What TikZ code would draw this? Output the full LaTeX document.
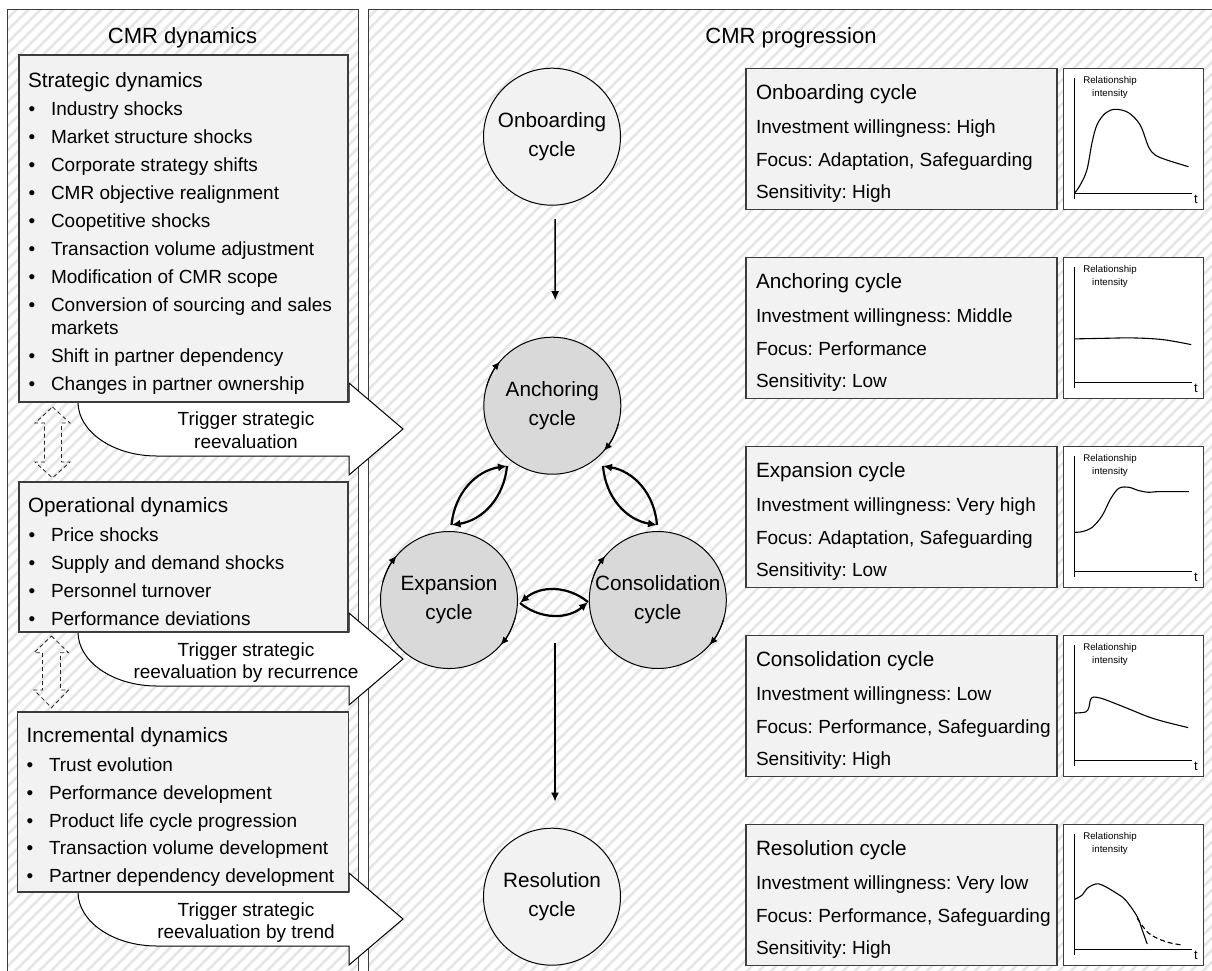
\documentclass[tikz,border=0pt]{standalone}
\usepackage{fontspec}
\setmainfont{Liberation Sans}
\usetikzlibrary{arrows.meta,calc}

\definecolor{boxfill}{HTML}{F2F2F2}
\definecolor{cyclefill}{HTML}{D9D9D9}
\definecolor{hatchline}{HTML}{E6E6E6}
\definecolor{framecol}{HTML}{3C3C3C}

\newcommand\cmrTitle{\fontsize{22}{26}\selectfont}
\newcommand\cmrHead{\fontsize{20.7}{29}\selectfont}
\newcommand\cmrItem{\fontsize{19}{22}\selectfont}
\newcommand\cmrTiny{\fontsize{9.7}{12}\selectfont}
\newcommand\cmrAxis{\fontsize{13}{15}\selectfont}
\frenchspacing

\begin{document}
\begin{tikzpicture}[x=1pt,y=-1pt,
  every node/.style={inner sep=0pt,outer sep=0pt},
  panel/.style={draw=framecol,line width=1.3pt},
  dynbox/.style={draw=framecol,fill=boxfill,line width=1.2pt,anchor=north west},
  infobox/.style={draw=framecol,fill=boxfill,line width=1.2pt,anchor=north west,minimum width=311pt,minimum height=141pt},
  chartbox/.style={draw=framecol,fill=white,line width=1.2pt,anchor=north west,minimum width=140pt,minimum height=141pt},
  trigger/.style={draw=black,fill=white,line width=1pt,line join=miter},
  blockarrow/.style={draw=black!85,line width=0.8pt,dash pattern=on 4pt off 3pt},
  itemtxt/.style={anchor=base west,font=\cmrItem},
  hdtxt/.style={anchor=base west,font=\cmrHead},
  bul/.style={anchor=base,font=\cmrItem},
  ctrtxt/.style={anchor=base,font=\cmrItem},
  cyc/.style={circle,draw=black,line width=1pt,minimum size=137pt,align=center,font=\cmrHead},
  progarrow/.style={line width=1.5pt,-{Latex[length=9pt,width=8pt]}},
  lensarrow/.style={line width=2.2pt,-{Latex[length=9pt,width=8pt]}},
  cyclehead/.style={line width=1pt,-{Latex[length=8pt,width=7pt]}},
  chartaxis/.style={line width=1.2pt,black},
  dyncurve/.style={line width=1.1pt,black,smooth,tension=0.55},
]
\useasboundingbox (0,0) rectangle (1212,970);
\clip (0,0) rectangle (1212,970);

% hatched panel backgrounds
\begin{scope}
  \clip (7.5,9.5) rectangle (358.5,990) (368.5,9.5) rectangle (1230,990);
  \foreach \k in {-1000,-988,...,1230}
    \draw[hatchline,line width=2.6pt] (\k,990) -- (\k+990,0);
\end{scope}
\draw[panel] (7.5,9.5) rectangle (358.5,990);
\draw[panel] (368.5,9.5) rectangle (1230,990);

\node[anchor=base,font=\cmrTitle] (ttlL) at (182.5,43.3) {CMR dynamics};
\node[anchor=base,font=\cmrTitle] (ttlR) at (791,43.3) {CMR progression};

% trigger block arrows leaving each dynamics box
\foreach \dy in {0,230,490}
  \draw[trigger] (78,402+\dy) .. controls (78,431.8+\dy) and (113.4,456+\dy) .. (157,456+\dy)
    -- (349,456+\dy) -- (349,475+\dy) -- (403,429+\dy) -- (349,383+\dy) -- (349,402+\dy) -- cycle;

\node[ctrtxt] (trA1) at (246,425.7) {Trigger strategic};
\node[ctrtxt] (trA2) at (246,448.3) {reevaluation};
\node[ctrtxt] (trB1) at (246,656) {Trigger strategic};
\node[ctrtxt] (trB2) at (246,678.3) {reevaluation by recurrence};
\node[ctrtxt] (trC1) at (246,916) {Trigger strategic};
\node[ctrtxt] (trC2) at (246,938.3) {reevaluation by trend};

% dynamics boxes
\node[dynbox,minimum width=329pt,minimum height=347pt] (strat) at (19,55) {};
\node[dynbox,minimum width=329pt,minimum height=150pt] (oper) at (19,482) {};
\node[dynbox,minimum width=331pt,minimum height=180pt] (incr) at (17.5,712) {};

\node[hdtxt] (sh) at (28,87.3) {Strategic dynamics};
\foreach \yy/\t [count=\i] in {115/Industry shocks, 143/Market structure shocks,
    171/Corporate strategy shifts, 199/CMR objective realignment, 227/Coopetitive shocks,
    255/Transaction volume adjustment, 283/Modification of CMR scope,
    311/Conversion of sourcing and sales, 362/Shift in partner dependency,
    390/Changes in partner ownership} {
  \node[bul] (sb\i) at (32,\yy) {•};
  \node[itemtxt] (si\i) at (51,\yy) {\t};
}
\node[itemtxt] (si8b) at (51,334) {markets};

\node[hdtxt] (oh) at (28,512) {Operational dynamics};
\foreach \yy/\t [count=\i] in {541/Price shocks, 569/Supply and demand shocks,
    597.7/Personnel turnover, 625/Performance deviations} {
  \node[bul] (ob\i) at (32,\yy) {•};
  \node[itemtxt] (oi\i) at (51,\yy) {\t};
}

\node[hdtxt] (nh) at (26.7,742.7) {Incremental dynamics};
\foreach \yy/\t [count=\i] in {771/Trust evolution, 799/Performance development,
    827/Product life cycle progression, 854/Transaction volume development,
    882/Partner dependency development} {
  \node[bul] (nb\i) at (30,\yy) {•};
  \node[itemtxt] (ni\i) at (49,\yy) {\t};
}

% dashed two-way block arrows between the dynamics boxes
\draw[blockarrow] (52.5,407) -- (70,423) -- (61.5,423) -- (61.5,462) -- (70,462) -- (52.5,478)
  -- (35,462) -- (44.5,462) -- (44.5,423) -- (35,423) -- cycle;
\draw[blockarrow] (51.5,636) -- (68.5,652.7) -- (60.5,652.7) -- (60.5,690) -- (68.5,690) -- (51.5,707.7)
  -- (34,690) -- (42.5,690) -- (42.5,652.7) -- (34,652.7) -- cycle;

% cycles
\node[cyc,fill=boxfill] (cOnb) at (552,136.7) {Onboarding\\cycle};
\node[cyc,fill=cyclefill] (cAnc) at (552.3,405.7) {Anchoring\\cycle};
\node[cyc,fill=cyclefill] (cExp) at (449,600) {Expansion\\cycle};
\node[cyc,fill=cyclefill] (cCon) at (657.8,600) {Consolidation\\cycle};
\node[cyc,fill=boxfill] (cRes) at (552,896.7) {Resolution\\cycle};

\foreach \c in {cAnc,cExp,cCon} {
  \draw[cyclehead] ($(\c)+(165:68.5pt)$) arc[start angle=165,end angle=140,radius=68.5pt];
  \draw[cyclehead] ($(\c)+(-15:68.5pt)$) arc[start angle=-15,end angle=-41,radius=68.5pt];
}

\draw[progarrow,shorten <=14pt,shorten >=37pt] ([xshift=3pt]cOnb.south) -- ([xshift=3pt]cAnc.north);
\coordinate (grp) at (555,643.3);
\draw[progarrow,shorten >=26.6pt] (grp) -- ([xshift=3pt]cRes.north);

\coordinate (aeA) at (507,466);
\coordinate (aeE) at (451.5,525);
\coordinate (acA) at (603,466);
\coordinate (acC) at (657,525);
\coordinate (ecE) at (520,603);
\coordinate (ecC) at (588,602);
\draw[lensarrow] (aeE) to[bend left=38] (aeA);
\draw[lensarrow] (aeA) to[bend left=38] (aeE);
\draw[lensarrow] (acC) to[bend right=38] (acA);
\draw[lensarrow] (acA) to[bend right=38] (acC);
\draw[lensarrow] (ecC) to[bend right=40] (ecE);
\draw[lensarrow] (ecE) to[bend right=40] (ecC);

% cycle profiles
\foreach \yt/\nm/\inv/\foc/\sen [count=\i] in {
    68.3/Onboarding cycle/High/{Adaptation, Safeguarding}/High,
    257.3/Anchoring cycle/Middle/Performance/Low,
    446.3/Expansion cycle/Very high/{Adaptation, Safeguarding}/Low,
    635.3/Consolidation cycle/Low/{Performance, Safeguarding}/High,
    824.3/Resolution cycle/Very low/{Performance, Safeguarding}/High} {
  \node[infobox] (ib\i) at (746,\yt) {};
  \node[chartbox] (cb\i) at (1063.3,\yt) {};
  \node[hdtxt] (ih\i) at (756,\yt+31) {\nm};
  \node[itemtxt] (iv\i) at (756,\yt+65) {Investment willingness: \inv};
  \node[itemtxt] (if\i) at (756,\yt+97.7) {Focus: \foc};
  \node[itemtxt] (is\i) at (756,\yt+130) {Sensitivity: \sen};
  \draw[chartaxis] (1074.5,\yt+10) -- (1074.5,\yt+131);
  \draw[chartaxis] (1074.5,\yt+125) -- (1192,\yt+125);
  \node[anchor=base,font=\cmrTiny] (rl\i) at (1110,\yt+15.5) {Relationship};
  \node[anchor=base,font=\cmrTiny] (ri\i) at (1110,\yt+28) {intensity};
  \node[anchor=base,font=\cmrAxis] (tt\i) at (1196,\yt+135.3) {t};
}

\begin{scope}[shift={(1074.5,193.3)}]
  \draw[dyncurve] plot coordinates {(0,0) (5.7,-8.3) (12.4,-23.3) (17.4,-50) (22.4,-68.3)
    (30.7,-80) (40.7,-84) (54,-80.6) (65.7,-68.3) (74,-46.6) (80.7,-38.3) (92.4,-33.3) (114,-26.6)};
\end{scope}
\begin{scope}[shift={(1074.5,382.3)}]
  \draw[dyncurve] plot coordinates {(0,-43.4) (30,-44) (58.3,-44.4) (88.3,-42.7) (116.7,-37.7)};
\end{scope}
\begin{scope}[shift={(1074.5,571.3)}]
  \draw[dyncurve] plot coordinates {(0.3,-39) (7.7,-39.7) (17.7,-44) (27.7,-55.7) (36,-72.3)
    (44.3,-83) (54.3,-84) (64.3,-80.7) (74.3,-79) (84.3,-79.7) (114.3,-79.7)};
\end{scope}
\begin{scope}[shift={(1074.5,760.3)}]
  \draw[dyncurve] plot coordinates {(0.3,-47.3) (11,-48.3) (14.3,-52.7) (16,-60.7) (19.3,-63.3)
    (27.7,-61.7) (41,-56.7) (57.7,-50) (74.3,-43.3) (91,-38.3) (113.7,-32.7)};
\end{scope}
\begin{scope}[shift={(1074.5,949.3)}]
  \draw[dyncurve] plot coordinates {(0.3,-50) (7.7,-54.3) (12.7,-61) (21,-65.3) (27.7,-64.3)
    (41,-56.7) (51,-49.3) (62.7,-32.7) (67.7,-19.3) (72.7,-5.3)};
  \draw[dyncurve,dash pattern=on 5pt off 3pt] plot coordinates {(62.7,-31) (74.3,-16) (91,-7.7) (107.7,-4.3)};
\end{scope}
\end{tikzpicture}
\end{document}
